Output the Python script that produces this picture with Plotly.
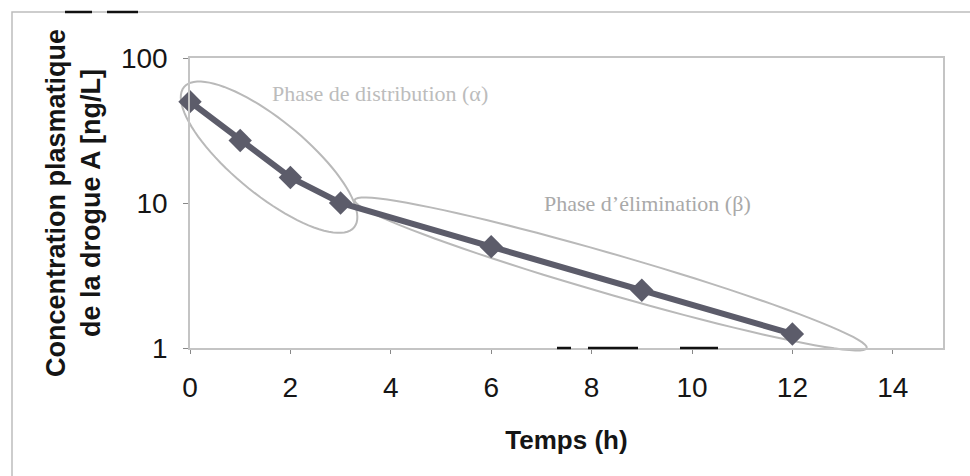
import math
import plotly.graph_objects as go

# ---- data -------------------------------------------------------------
time_h = [0, 1, 2, 3, 6, 9, 12]
conc = [50, 27, 15, 10, 5, 2.5, 1.25]
x_tickvals = [0, 2, 4, 6, 8, 10, 12, 14]
y_tickvals = [1, 10, 100]
y_ticktext = ["1", "10", "100"]
x_title = "Temps (h)"
y_title = "Concentration plasmatique<br>de la drogue A [ng/L]"
label_alpha = "Phase de distribution (α)"
label_beta = "Phase d’élimination (β)"

# ---- layout geometry --------------------------------------------------
W, H = 970, 476
M = dict(l=190, r=27, t=58, b=128)
X_RANGE = [0, 15]
Y_RANGE_LOG = [0, 2]
PW = W - M["l"] - M["r"]
PH = H - M["t"] - M["b"]


def data_to_px(t, c):
    px = M["l"] + (t - X_RANGE[0]) / (X_RANGE[1] - X_RANGE[0]) * PW
    py = M["t"] + (Y_RANGE_LOG[1] - math.log10(c)) / (Y_RANGE_LOG[1] - Y_RANGE_LOG[0]) * PH
    return px, py


def px_to_paper(px, py):
    return (px - M["l"]) / PW, (H - M["b"] - py) / PH


def ellipse_path(end1, end2, half_width, n=90):
    (x1, y1), (x2, y2) = data_to_px(*end1), data_to_px(*end2)
    cx, cy = (x1 + x2) / 2, (y1 + y2) / 2
    a = math.hypot(x2 - x1, y2 - y1) / 2
    ang = math.atan2(y2 - y1, x2 - x1)
    ux, uy = math.cos(ang), math.sin(ang)
    vx, vy = -uy, ux
    pts = []
    for i in range(n):
        th = 2 * math.pi * i / n
        px = cx + a * math.cos(th) * ux + half_width * math.sin(th) * vx
        py = cy + a * math.cos(th) * uy + half_width * math.sin(th) * vy
        pts.append(px_to_paper(px, py))
    return "M " + " L ".join(f"{x:.5f},{y:.5f}" for x, y in pts) + " Z"


# ellipses enclosing the two phases: (end in data units, end in data units, half width px)
ellipse_alpha = ((-0.12, 63), (3.27, 6.8), 37)
ellipse_beta = ((3.28, 10.5), (13.48, 1.0), 20)

GRID = "#c4c4c4"
LINE = "#5c5c6a"

fig = go.Figure()
fig.add_trace(go.Scatter(
    x=time_h, y=conc, mode="lines+markers",
    line=dict(color=LINE, width=6),
    marker=dict(symbol="diamond", size=18, color=LINE),
    cliponaxis=False, showlegend=False, hoverinfo="x+y",
))

shapes = []
for e in (ellipse_alpha, ellipse_beta):
    shapes.append(dict(type="path", xref="paper", yref="paper",
                       path=ellipse_path(*e), line=dict(color="#b9b9b9", width=2),
                       layer="below"))

# outer chart frame
fx0, fy0 = px_to_paper(12, 12)
fx1, fy1 = px_to_paper(990, 500)
shapes.append(dict(type="rect", xref="paper", yref="paper", x0=fx0, y0=fy1, x1=fx1, y1=fy0,
                   line=dict(color="#bdbdbd", width=1.5)))

# dark scan marks
for (xa, ya, xb, yb) in [(65, 12, 92, 12), (107, 12, 138, 12),
                          (557, 348, 571, 348), (588, 348, 638, 348), (680, 348, 718, 348)]:
    p0 = px_to_paper(xa, ya)
    p1 = px_to_paper(xb, yb)
    shapes.append(dict(type="line", xref="paper", yref="paper", x0=p0[0], y0=p0[1],
                       x1=p1[0], y1=p1[1], line=dict(color="#111111", width=2.5)))

annotations = []
for text, (px, py), size, col in [(label_alpha, (380, 93), 22, "#bcbcbc"),
                                   (label_beta, (647, 203), 22, "#a9a9a9")]:
    ax, ay = px_to_paper(px, py)
    annotations.append(dict(text=text, x=ax, y=ay, xref="paper", yref="paper",
                            showarrow=False, xanchor="center", yanchor="middle",
                            font=dict(family="Liberation Serif, Times New Roman, serif",
                                      size=size, color=col)))

fig.update_layout(
    width=W, height=H, margin=M,
    paper_bgcolor="white", plot_bgcolor="white",
    font=dict(family="Liberation Sans, Arial, sans-serif", color="#151515"),
    shapes=shapes, annotations=annotations,
    xaxis=dict(range=X_RANGE, tickvals=x_tickvals, showgrid=False, zeroline=False,
               showline=True, linecolor=GRID, linewidth=1.5, mirror=True,
               ticks="outside", ticklen=4, tickcolor="#888888",
               ticklabelstandoff=10,
               tickfont=dict(size=28, color="#151515"),
               title=dict(text=x_title, standoff=28,
                          font=dict(size=26, color="#151515",
                                    family="Liberation Sans, Arial, sans-serif", weight="bold"))),
    yaxis=dict(type="log", range=Y_RANGE_LOG, tickvals=y_tickvals, ticktext=y_ticktext,
               showgrid=False, zeroline=False,
               showline=True, linecolor=GRID, linewidth=1.5, mirror=True,
               ticks="outside", ticklen=5, tickcolor="#888888",
               ticklabelstandoff=10,
               tickfont=dict(size=28, color="#151515"),
               title=dict(text=y_title, standoff=12,
                          font=dict(size=27, color="#151515",
                                    family="Liberation Sans, Arial, sans-serif", weight="bold"))),
)

fig.write_html("out.html")
